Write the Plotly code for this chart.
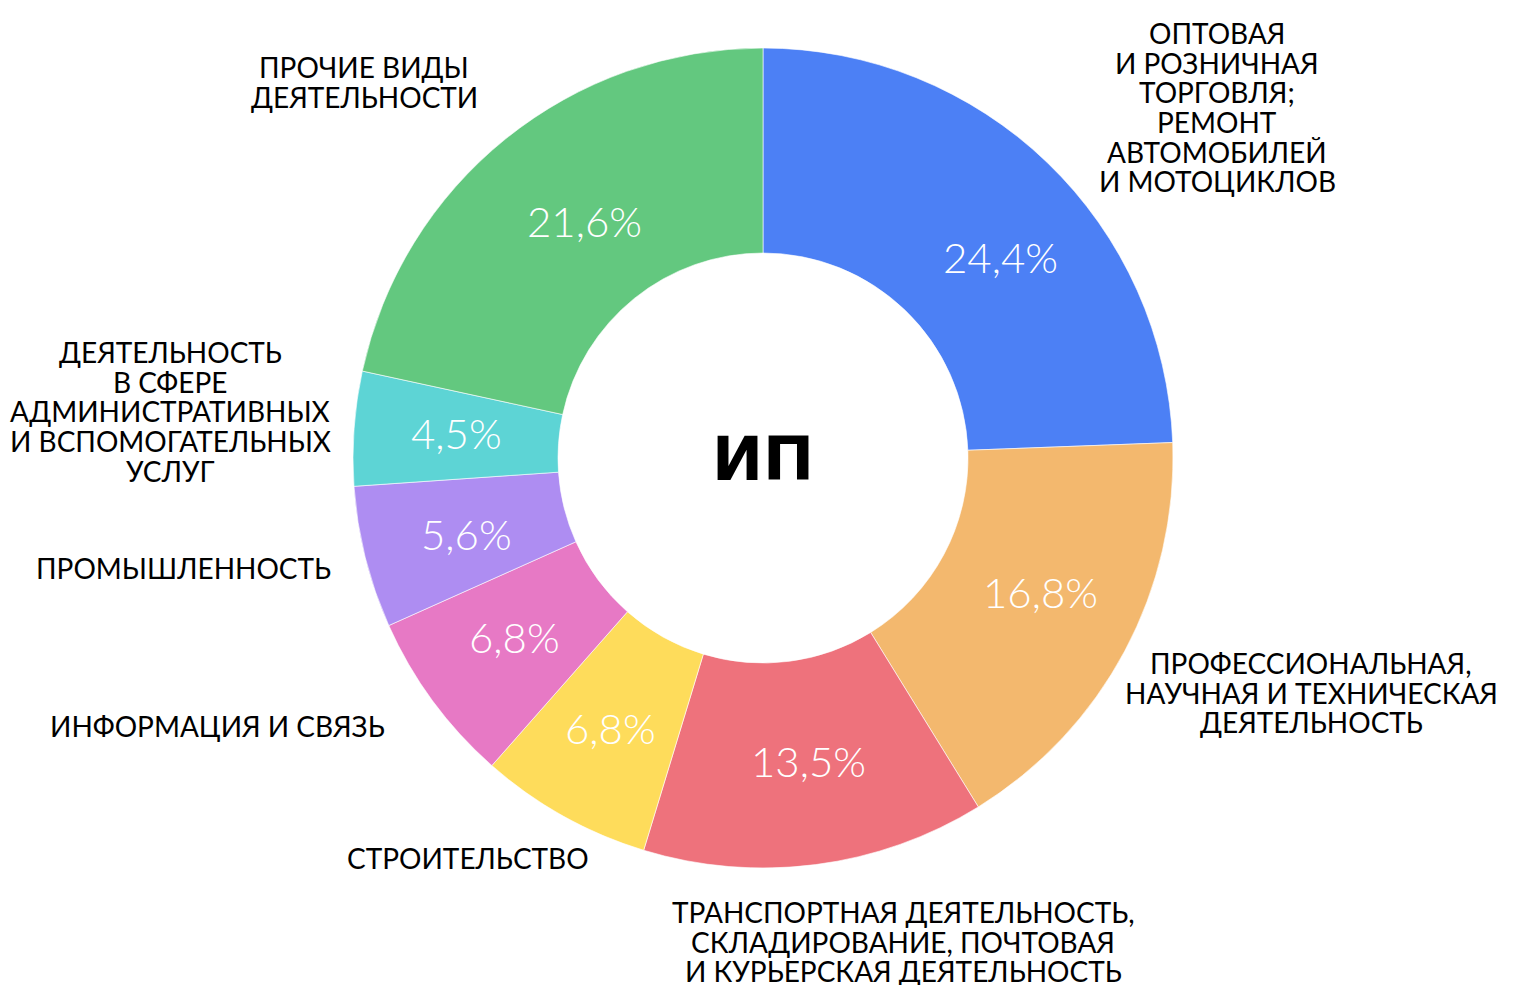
import plotly.graph_objects as go

categories = [
    "ОПТОВАЯ<br>И РОЗНИЧНАЯ<br>ТОРГОВЛЯ;<br>РЕМОНТ<br>АВТОМОБИЛЕЙ<br>И МОТОЦИКЛОВ",
    "ПРОФЕССИОНАЛЬНАЯ,<br>НАУЧНАЯ И ТЕХНИЧЕСКАЯ<br>ДЕЯТЕЛЬНОСТЬ",
    "ТРАНСПОРТНАЯ ДЕЯТЕЛЬНОСТЬ,<br>СКЛАДИРОВАНИЕ, ПОЧТОВАЯ<br>И КУРЬЕРСКАЯ ДЕЯТЕЛЬНОСТЬ",
    "СТРОИТЕЛЬСТВО",
    "ИНФОРМАЦИЯ И СВЯЗЬ",
    "ПРОМЫШЛЕННОСТЬ",
    "ДЕЯТЕЛЬНОСТЬ<br>В СФЕРЕ<br>АДМИНИСТРАТИВНЫХ<br>И ВСПОМОГАТЕЛЬНЫХ<br>УСЛУГ",
    "ПРОЧИЕ ВИДЫ<br>ДЕЯТЕЛЬНОСТИ",
]
values = [24.4, 16.8, 13.5, 6.8, 6.8, 5.6, 4.5, 21.6]
pct_labels = ["24,4%", "16,8%", "13,5%", "6,8%", "6,8%", "5,6%", "4,5%", "21,6%"]
colors = ["#4C80F5", "#F3B86E", "#EE727C", "#FEDC5B", "#E779C5", "#AE8DF2", "#5DD4D5", "#63C87F"]

# layout positions (pixels in the reference canvas)
label_pos = [(1217, 33), (1311, 663), (903, 912), (468, 858),
             (217, 726), (183, 568), (170, 352), (364, 67)]  # centre x, first-line y
pct_pos = [(1000, 257), (1040, 592), (808, 761), (610, 728),
           (514, 637), (466, 534), (456, 433), (584, 221)]

W, H = 1518, 985
OFF = 8  # page body margin
cx, cy, R = 763, 458, 410
LINE = 29.7

FONT = "Lato"


def px(x):
    return (x - OFF) / W


def py(y):
    return 1 - (y - OFF) / H


fig = go.Figure(go.Pie(
    labels=categories,
    values=values,
    textinfo="none",
    hole=0.5,
    sort=False,
    direction="clockwise",
    rotation=0,
    marker=dict(colors=colors, line=dict(color="white", width=0.6)),
    domain=dict(x=[px(cx - R), px(cx + R)], y=[py(cy + R), py(cy - R)]),
    showlegend=False,
    hoverinfo="skip",
))

for lab, (x, y0) in zip(categories, label_pos):
    for i, line in enumerate(lab.split("<br>")):
        fig.add_annotation(x=px(x), y=py(y0 + i * LINE), xref="paper", yref="paper",
                           text=line, showarrow=False, align="center",
                           xanchor="center", yanchor="middle",
                           font=dict(family=FONT, size=28, color="black"))

for t, (x, y) in zip(pct_labels, pct_pos):
    fig.add_annotation(x=px(x), y=py(y), xref="paper", yref="paper",
                       text=t, showarrow=False, xanchor="center", yanchor="middle",
                       font=dict(family=FONT, size=42, color="white", weight=300))

fig.add_annotation(x=px(cx), y=py(cy), xref="paper", yref="paper",
                   text="<b>ИП</b>", showarrow=False,
                   xanchor="center", yanchor="middle",
                   font=dict(family="DejaVu Sans", size=61, color="black"))

fig.update_layout(width=W, height=H, margin=dict(l=0, r=0, t=0, b=0),
                  paper_bgcolor="white", plot_bgcolor="white")

fig.write_html("out.html")
